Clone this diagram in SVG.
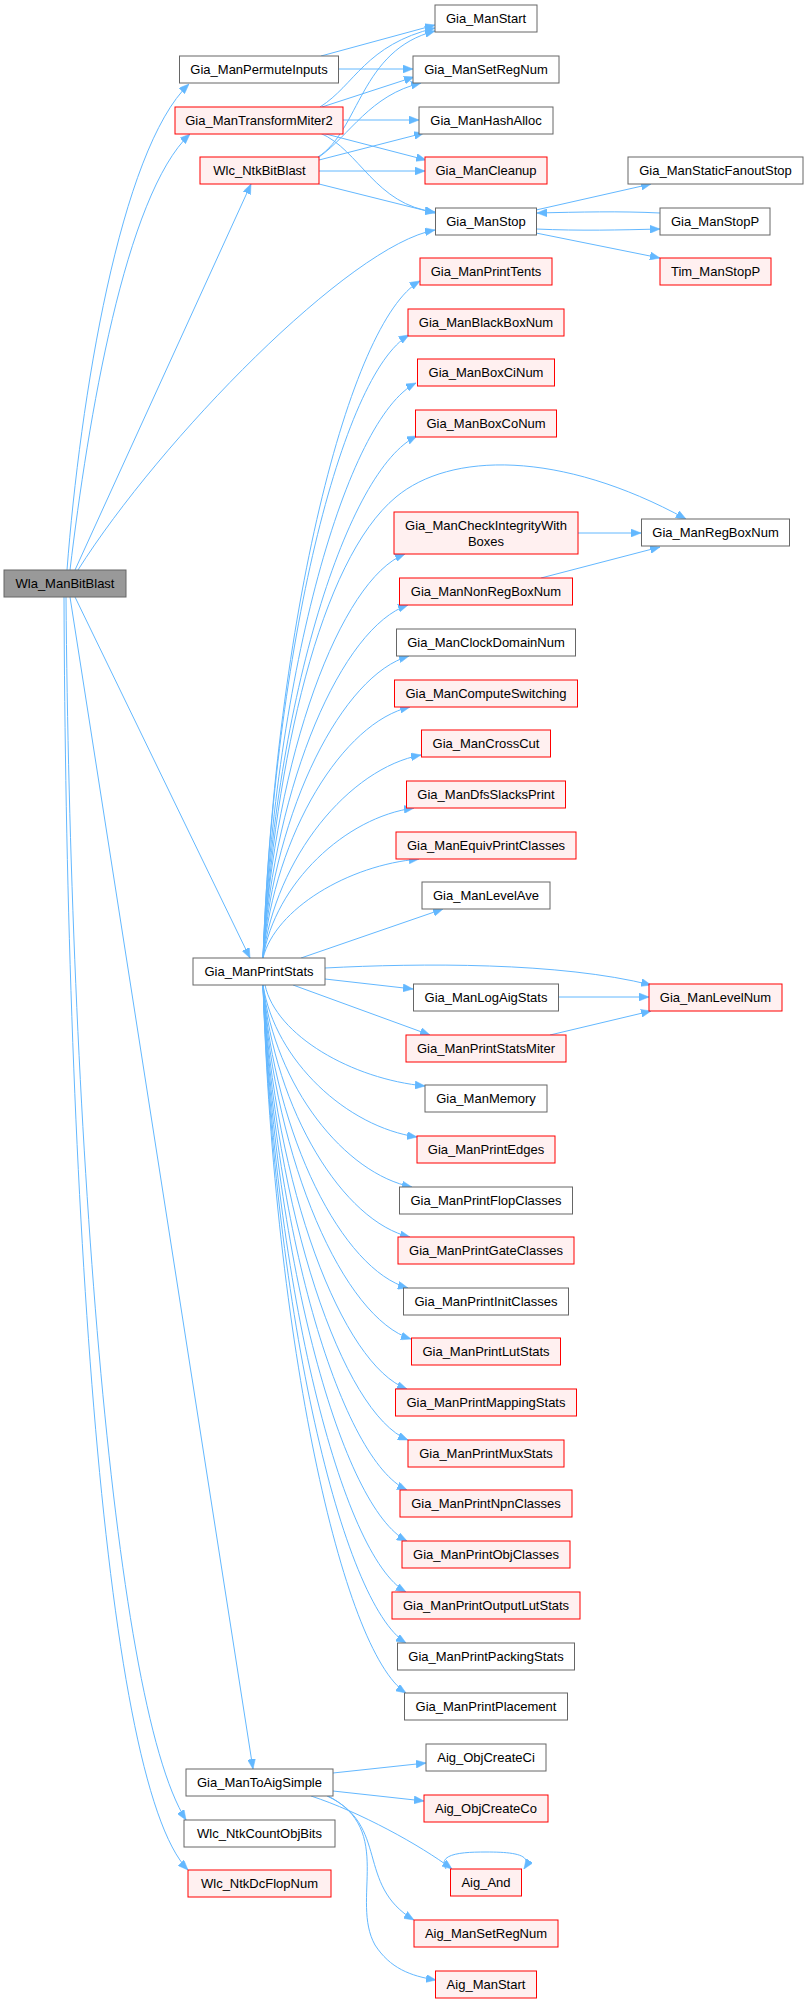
<svg xmlns="http://www.w3.org/2000/svg" width="808" height="2003" viewBox="0 0 808 2003">
<style>
.e{fill:none;stroke:#63b8ff;stroke-width:1;marker-end:url(#a)}
.g rect{fill:#999999;stroke:#666666;stroke-width:1}
.w rect{fill:#ffffff;stroke:#666666;stroke-width:1}
.r rect{fill:#fff0f0;stroke:#ff0000;stroke-width:1}
text{font-family:"Liberation Sans",Arial,sans-serif;font-size:13px;text-anchor:middle;fill:#000000}
</style>
<defs>
<marker id="a" markerWidth="10" markerHeight="8" refX="10" refY="4" orient="auto" markerUnits="userSpaceOnUse"><path d="M0,0 L10,4 L0,8 z" fill="#63b8ff" stroke="#63b8ff" stroke-width="0.5"/></marker>
</defs>
<rect width="808" height="2003" fill="#ffffff"/>
<g id="connectors">
<path class="e" d="M67,570 C80,400 120,150 189,84"/>
<path class="e" d="M70,570 C88,420 125,195 190,134"/>
<path class="e" d="M75,570 L251,184"/>
<path class="e" d="M78,570 C160,440 350,245 435,230"/>
<path class="e" d="M75,597 L250,958"/>
<path class="e" d="M70,597 L253,1769"/>
<path class="e" d="M66,597 C70,1100 110,1700 186,1820"/>
<path class="e" d="M64,597 C66,1150 100,1780 188,1870"/>
<path class="e" d="M321,56 L435,25"/>
<path class="e" d="M339,69 L413,69"/>
<path class="e" d="M320,107 C355,85 365,45 435,28"/>
<path class="e" d="M322,107 L414,77"/>
<path class="e" d="M343,120 L419,120"/>
<path class="e" d="M322,133 L426,160"/>
<path class="e" d="M320,133 C360,150 375,205 435,212"/>
<path class="e" d="M318,157 C360,130 360,50 435,31"/>
<path class="e" d="M319,157 C350,135 370,95 421,83"/>
<path class="e" d="M319,160 L424,133"/>
<path class="e" d="M319,171 L425,171"/>
<path class="e" d="M319,184 L435,213"/>
<path class="e" d="M536,210 L651,184"/>
<path class="e" d="M536,229 C580,231 620,230 660,229"/>
<path class="e" d="M660,213 C620,211 580,212 537,213"/>
<path class="e" d="M536,233 L660,258"/>
<path class="e" d="M578,533 L641,533"/>
<path class="e" d="M541,578 L660,547"/>
<path class="e" d="M263,958 C275,760 320,560 396,497 C450,452 560,450 686,519"/>
<path class="e" d="M263,958 C275.5,620 348.8,321.7 420,281"/>
<path class="e" d="M263,958 C274.4,648 341.65,374.3 409,335"/>
<path class="e" d="M263,958 C275.2,671.5 346.6,418.5 416,383"/>
<path class="e" d="M263,958 C275.2,698.5 347.15,469.3 417,436"/>
<path class="e" d="M263,958 C274.3,757 340.55,579.2 405,554"/>
<path class="e" d="M263,958 C274.5,782.5 342.2,627.2 408,605"/>
<path class="e" d="M263,958 C274.6,808 342.75,675.1 409,656"/>
<path class="e" d="M263,958 C274.7,833 343.3,722.1 410,707"/>
<path class="e" d="M263,958 C275.6,857.5 349.35,768.2 421,755"/>
<path class="e" d="M263,958 C275,883.5 345.5,817.1 414,808"/>
<path class="e" d="M263,958 C275.4,909 348.25,865 419,859"/>
<path class="e" d="M301,958 L443,909"/>
<path class="e" d="M325,968 C420,963 560,962 651,985"/>
<path class="e" d="M325,979 L413,989"/>
<path class="e" d="M293,985 L430,1035"/>
<path class="e" d="M558,997 L649,997"/>
<path class="e" d="M550,1035 L651,1011"/>
<path class="e" d="M265,985 C276,1035.5 352.1,1079.1 425,1086"/>
<path class="e" d="M263,985 C275.2,1061 347.2,1127 417,1137"/>
<path class="e" d="M263,985 C274.9,1086 344.95,1174 412,1187"/>
<path class="e" d="M263,985 C274.8,1111.5 343.85,1221.9 410,1237"/>
<path class="e" d="M263,985 C274.6,1137 342.75,1269.9 408,1288"/>
<path class="e" d="M263,985 C274.8,1162.5 343.85,1317.8 411,1339"/>
<path class="e" d="M263,985 C274.5,1187.5 342.2,1364.8 407,1389"/>
<path class="e" d="M263,985 C274.5,1213 342.2,1412.8 408,1440"/>
<path class="e" d="M263,985 C274.5,1238 342.2,1459.8 407,1490"/>
<path class="e" d="M263,985 C274.5,1263.5 342.2,1507.7 407,1541"/>
<path class="e" d="M263,985 C274.4,1289 341.65,1555.6 406,1592"/>
<path class="e" d="M263,985 C274.4,1314 341.65,1602.6 406,1643"/>
<path class="e" d="M263,985 C274.4,1339.5 341.65,1650.6 406,1693"/>
<path class="e" d="M333,1773 L426,1763"/>
<path class="e" d="M333,1791 L424,1801"/>
<path class="e" d="M311,1796 C360,1812 420,1845 452,1869"/>
<path class="e" d="M327,1796 C390,1825 355,1885 414,1920"/>
<path class="e" d="M328,1796 C395,1830 350,1900 375,1945 C390,1968 410,1976 436,1980"/>
<path class="e" d="M446,1869 C436,1853 465,1852 486,1852 C512,1852 534,1854 524,1869"/>
</g>
<g id="n_Wla_ManBitBlast" class="g"><rect x="4" y="570" width="122" height="27"/><text x="65" y="588">Wla_ManBitBlast</text></g>
<g id="n_Gia_ManPermuteInputs" class="w"><rect x="179.5" y="56" width="159" height="27"/><text x="259" y="74">Gia_ManPermuteInputs</text></g>
<g id="n_Gia_ManTransformMiter2" class="r"><rect x="175" y="107" width="168" height="27"/><text x="259" y="125">Gia_ManTransformMiter2</text></g>
<g id="n_Wlc_NtkBitBlast" class="r"><rect x="200" y="157" width="119" height="27"/><text x="259.5" y="175">Wlc_NtkBitBlast</text></g>
<g id="n_Gia_ManPrintStats" class="w"><rect x="193" y="958" width="132" height="27"/><text x="259" y="976">Gia_ManPrintStats</text></g>
<g id="n_Gia_ManToAigSimple" class="w"><rect x="186" y="1769" width="147" height="27"/><text x="259.5" y="1787">Gia_ManToAigSimple</text></g>
<g id="n_Wlc_NtkCountObjBits" class="w"><rect x="184" y="1820" width="151" height="27"/><text x="259.5" y="1838">Wlc_NtkCountObjBits</text></g>
<g id="n_Wlc_NtkDcFlopNum" class="r"><rect x="188" y="1870" width="143" height="27"/><text x="259.5" y="1888">Wlc_NtkDcFlopNum</text></g>
<g id="n_Gia_ManStart" class="w"><rect x="435" y="5" width="102" height="27"/><text x="486" y="23">Gia_ManStart</text></g>
<g id="n_Gia_ManSetRegNum" class="w"><rect x="413" y="56" width="146" height="27"/><text x="486" y="74">Gia_ManSetRegNum</text></g>
<g id="n_Gia_ManHashAlloc" class="w"><rect x="419" y="107" width="134" height="27"/><text x="486" y="125">Gia_ManHashAlloc</text></g>
<g id="n_Gia_ManCleanup" class="r"><rect x="425" y="157" width="122" height="27"/><text x="486" y="175">Gia_ManCleanup</text></g>
<g id="n_Gia_ManStop" class="w"><rect x="435.5" y="208" width="101" height="27"/><text x="486" y="226">Gia_ManStop</text></g>
<g id="n_Gia_ManPrintTents" class="r"><rect x="420" y="258" width="132" height="27"/><text x="486" y="276">Gia_ManPrintTents</text></g>
<g id="n_Gia_ManBlackBoxNum" class="r"><rect x="408" y="309" width="156" height="27"/><text x="486" y="327">Gia_ManBlackBoxNum</text></g>
<g id="n_Gia_ManBoxCiNum" class="r"><rect x="417.5" y="359" width="137" height="27"/><text x="486" y="377">Gia_ManBoxCiNum</text></g>
<g id="n_Gia_ManBoxCoNum" class="r"><rect x="415.5" y="410" width="141" height="27"/><text x="486" y="428">Gia_ManBoxCoNum</text></g>
<g id="n_Gia_ManCheckIntegrityWithBoxes" class="r"><rect x="394" y="512" width="184" height="42"/><text x="486" y="530">Gia_ManCheckIntegrityWith</text><text x="486" y="546">Boxes</text></g>
<g id="n_Gia_ManNonRegBoxNum" class="r"><rect x="399.5" y="578" width="173" height="27"/><text x="486" y="596">Gia_ManNonRegBoxNum</text></g>
<g id="n_Gia_ManClockDomainNum" class="w"><rect x="396.5" y="629" width="179" height="27"/><text x="486" y="647">Gia_ManClockDomainNum</text></g>
<g id="n_Gia_ManComputeSwitching" class="r"><rect x="394.5" y="680" width="183" height="27"/><text x="486" y="698">Gia_ManComputeSwitching</text></g>
<g id="n_Gia_ManCrossCut" class="r"><rect x="421.5" y="730" width="129" height="27"/><text x="486" y="748">Gia_ManCrossCut</text></g>
<g id="n_Gia_ManDfsSlacksPrint" class="r"><rect x="406.5" y="781" width="159" height="27"/><text x="486" y="799">Gia_ManDfsSlacksPrint</text></g>
<g id="n_Gia_ManEquivPrintClasses" class="r"><rect x="396" y="832" width="180" height="27"/><text x="486" y="850">Gia_ManEquivPrintClasses</text></g>
<g id="n_Gia_ManLevelAve" class="w"><rect x="422" y="882" width="128" height="27"/><text x="486" y="900">Gia_ManLevelAve</text></g>
<g id="n_Gia_ManLogAigStats" class="w"><rect x="413.5" y="984" width="145" height="27"/><text x="486" y="1002">Gia_ManLogAigStats</text></g>
<g id="n_Gia_ManPrintStatsMiter" class="r"><rect x="406" y="1035" width="160" height="27"/><text x="486" y="1053">Gia_ManPrintStatsMiter</text></g>
<g id="n_Gia_ManMemory" class="w"><rect x="425" y="1085" width="122" height="27"/><text x="486" y="1103">Gia_ManMemory</text></g>
<g id="n_Gia_ManPrintEdges" class="r"><rect x="417" y="1136" width="138" height="27"/><text x="486" y="1154">Gia_ManPrintEdges</text></g>
<g id="n_Gia_ManPrintFlopClasses" class="w"><rect x="399.5" y="1187" width="173" height="27"/><text x="486" y="1205">Gia_ManPrintFlopClasses</text></g>
<g id="n_Gia_ManPrintGateClasses" class="r"><rect x="398" y="1237" width="176" height="27"/><text x="486" y="1255">Gia_ManPrintGateClasses</text></g>
<g id="n_Gia_ManPrintInitClasses" class="w"><rect x="403.5" y="1288" width="165" height="27"/><text x="486" y="1306">Gia_ManPrintInitClasses</text></g>
<g id="n_Gia_ManPrintLutStats" class="r"><rect x="411.5" y="1338" width="149" height="27"/><text x="486" y="1356">Gia_ManPrintLutStats</text></g>
<g id="n_Gia_ManPrintMappingStats" class="r"><rect x="395.5" y="1389" width="181" height="27"/><text x="486" y="1407">Gia_ManPrintMappingStats</text></g>
<g id="n_Gia_ManPrintMuxStats" class="r"><rect x="408" y="1440" width="156" height="27"/><text x="486" y="1458">Gia_ManPrintMuxStats</text></g>
<g id="n_Gia_ManPrintNpnClasses" class="r"><rect x="400" y="1490" width="172" height="27"/><text x="486" y="1508">Gia_ManPrintNpnClasses</text></g>
<g id="n_Gia_ManPrintObjClasses" class="r"><rect x="402" y="1541" width="168" height="27"/><text x="486" y="1559">Gia_ManPrintObjClasses</text></g>
<g id="n_Gia_ManPrintOutputLutStats" class="r"><rect x="392" y="1592" width="188" height="27"/><text x="486" y="1610">Gia_ManPrintOutputLutStats</text></g>
<g id="n_Gia_ManPrintPackingStats" class="w"><rect x="397.5" y="1643" width="177" height="27"/><text x="486" y="1661">Gia_ManPrintPackingStats</text></g>
<g id="n_Gia_ManPrintPlacement" class="w"><rect x="404.5" y="1693" width="163" height="27"/><text x="486" y="1711">Gia_ManPrintPlacement</text></g>
<g id="n_Aig_ObjCreateCi" class="w"><rect x="426" y="1744" width="120" height="27"/><text x="486" y="1762">Aig_ObjCreateCi</text></g>
<g id="n_Aig_ObjCreateCo" class="r"><rect x="424" y="1795" width="124" height="27"/><text x="486" y="1813">Aig_ObjCreateCo</text></g>
<g id="n_Aig_And" class="r"><rect x="450.5" y="1869" width="71" height="27"/><text x="486" y="1887">Aig_And</text></g>
<g id="n_Aig_ManSetRegNum" class="r"><rect x="414" y="1920" width="144" height="27"/><text x="486" y="1938">Aig_ManSetRegNum</text></g>
<g id="n_Aig_ManStart" class="r"><rect x="435.5" y="1971" width="101" height="27"/><text x="486" y="1989">Aig_ManStart</text></g>
<g id="n_Gia_ManStaticFanoutStop" class="w"><rect x="628" y="157" width="175" height="27"/><text x="715.5" y="175">Gia_ManStaticFanoutStop</text></g>
<g id="n_Gia_ManStopP" class="w"><rect x="660" y="208" width="110" height="27"/><text x="715" y="226">Gia_ManStopP</text></g>
<g id="n_Tim_ManStopP" class="r"><rect x="660" y="258" width="111" height="27"/><text x="715.5" y="276">Tim_ManStopP</text></g>
<g id="n_Gia_ManRegBoxNum" class="w"><rect x="641.5" y="519" width="148" height="27"/><text x="715.5" y="537">Gia_ManRegBoxNum</text></g>
<g id="n_Gia_ManLevelNum" class="r"><rect x="649" y="984" width="133" height="27"/><text x="715.5" y="1002">Gia_ManLevelNum</text></g>
</svg>
